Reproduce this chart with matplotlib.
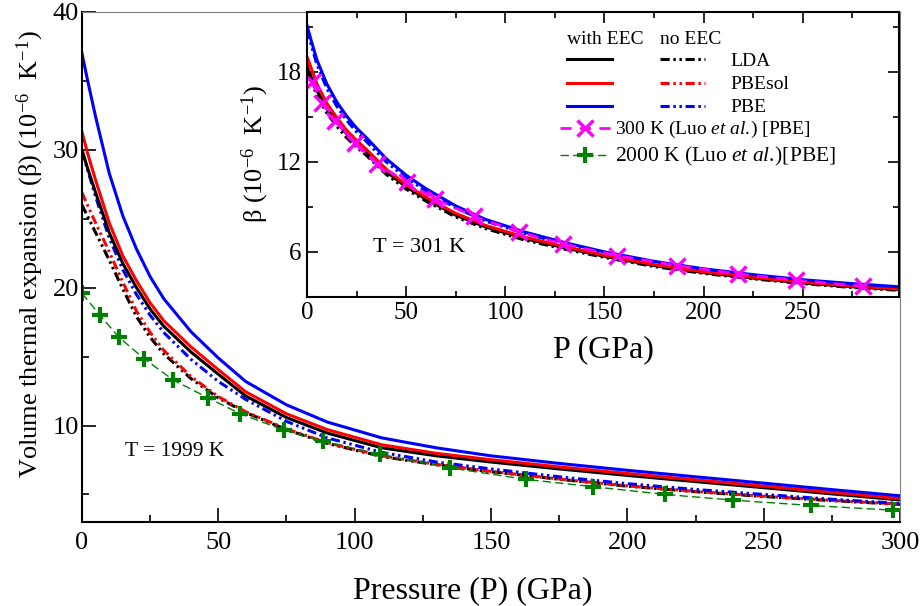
import matplotlib
matplotlib.use('Agg')
import matplotlib.pyplot as plt
from matplotlib.ticker import MultipleLocator
from matplotlib.legend_handler import HandlerTuple

plt.rcParams['font.family'] = ['Liberation Serif', 'DejaVu Serif']
plt.rcParams['mathtext.fontset'] = 'custom'
plt.rcParams['mathtext.rm'] = 'Liberation Serif'
plt.rcParams['mathtext.it'] = 'Liberation Serif:italic'

# pressure grid (GPa) the curves were read on
pressure = [0, 2, 5, 10, 15, 20, 25, 30, 40, 50, 60, 75, 90, 110, 130, 150, 175, 200, 225, 250, 275, 300]

# T = 1999 K, with electronic excitation contribution (EEC)
lda_eec_1999 = [30.0, 28.7, 26.9, 24.0, 21.75, 20.0, 18.45, 17.2, 15.33, 13.72, 12.15, 10.58, 9.45, 8.38, 7.8, 7.35, 6.85, 6.38, 5.93, 5.49, 5.04, 4.6]
pbesol_eec_1999 = [31.3, 29.8, 27.8, 24.7, 22.3, 20.5, 18.9, 17.6, 15.7, 14.05, 12.45, 10.85, 9.7, 8.6, 7.98, 7.52, 7.0, 6.52, 6.06, 5.61, 5.15, 4.7]
pbe_eec_1999 = [37.0, 35.1, 32.4, 28.3, 25.2, 22.8, 20.8, 19.2, 16.8, 14.9, 13.2, 11.5, 10.25, 9.1, 8.38, 7.8, 7.25, 6.75, 6.28, 5.82, 5.35, 4.9]
# T = 1999 K, no EEC
lda_noeec_1999 = [26.0, 25.2, 24.0, 22.0, 19.9, 17.9, 16.4, 15.2, 13.4, 12.0, 10.95, 9.7, 8.7, 7.75, 7.15, 6.65, 6.1, 5.6, 5.2, 4.85, 4.55, 4.28]
pbesol_noeec_1999 = [26.9, 26.0, 24.7, 22.6, 20.4, 18.3, 16.75, 15.45, 13.55, 12.1, 11.0, 9.75, 8.75, 7.8, 7.18, 6.67, 6.12, 5.62, 5.22, 4.87, 4.57, 4.3]
pbe_noeec_1999 = [29.9, 28.6, 26.6, 23.6, 21.3, 19.5, 18.0, 16.75, 14.8, 13.2, 11.9, 10.3, 9.1, 8.05, 7.35, 6.85, 6.28, 5.78, 5.36, 5.0, 4.65, 4.35]

# T = 301 K (inset)
lda_eec_301 = [18.3, 17.7, 16.75, 15.55, 14.65, 13.85, 13.2, 12.62, 11.33, 10.32, 9.5, 8.43, 7.65, 6.86, 6.25, 5.69, 5.07, 4.6, 4.23, 3.91, 3.65, 3.45]
pbesol_eec_301 = [19.0, 18.3, 17.2, 15.9, 14.95, 14.1, 13.42, 12.82, 11.5, 10.45, 9.63, 8.55, 7.75, 6.95, 6.33, 5.75, 5.13, 4.65, 4.28, 3.96, 3.7, 3.49]
pbe_eec_301 = [21.1, 20.15, 18.8, 17.2, 16.0, 15.05, 14.25, 13.6, 12.2, 11.1, 10.2, 9.05, 8.15, 7.3, 6.6, 5.98, 5.35, 4.85, 4.46, 4.12, 3.86, 3.64]
lda_noeec_301 = [18.0, 17.4, 16.45, 15.25, 14.37, 13.6, 12.97, 12.42, 11.15, 10.17, 9.37, 8.31, 7.54, 6.76, 6.16, 5.61, 5.0, 4.54, 4.18, 3.86, 3.6, 3.4]
pbesol_noeec_301 = [18.8, 18.12, 17.03, 15.74, 14.8, 13.96, 13.29, 12.7, 11.39, 10.36, 9.55, 8.47, 7.68, 6.89, 6.27, 5.7, 5.09, 4.61, 4.25, 3.93, 3.67, 3.46]
pbe_noeec_301 = [20.8, 19.85, 18.5, 16.9, 15.71, 14.77, 13.99, 13.35, 11.98, 10.92, 10.05, 8.92, 8.04, 7.2, 6.51, 5.9, 5.28, 4.8, 4.41, 4.07, 3.81, 3.59]

# Luo et al. reference points
luo_2000_p = [0, 6.6, 13.6, 22.7, 33.5, 46.3, 58.1, 74.1, 88.4, 109.2, 134.8, 162.9, 187.5, 213.9, 238.6, 267.3, 297.4]
luo_2000_beta = [19.6, 18.0, 16.4, 14.86, 13.3, 12.0, 10.85, 9.66, 8.86, 7.9, 6.93, 6.09, 5.56, 5.0, 4.59, 4.2, 3.86]
luo_300_p = [2.5, 7.5, 14.2, 24.3, 35.5, 50.3, 64.6, 84.3, 107.0, 129.3, 156.2, 186.4, 217.5, 246.6, 280.5]
luo_300_beta = [17.3, 15.9, 14.75, 13.24, 11.87, 10.62, 9.51, 8.35, 7.3, 6.51, 5.73, 5.07, 4.51, 4.09, 3.69]

colors = ['black', 'red', 'blue']
ddot = (0, (3, 1.2, 0.8, 1.2, 0.8, 1.2))  # dash-dot-dot

fig = plt.figure(figsize=(9.23, 6.06), dpi=100)

# ---- main panel, T = 1999 K ----
ax = fig.add_axes([0.0888, 0.1386, 0.8863, 0.8416])
for ys, c in zip([lda_noeec_1999, pbesol_noeec_1999, pbe_noeec_1999], colors):
    ax.plot(pressure, ys, color=c, lw=2.2, linestyle=ddot)
for ys, c in zip([lda_eec_1999, pbesol_eec_1999, pbe_eec_1999], colors):
    ax.plot(pressure, ys, color=c, lw=2.2)
ax.plot(luo_2000_p, luo_2000_beta, color='green', lw=1, linestyle=(0, (6, 3)),
        marker='+', ms=11, mew=3)

ax.set_xlim(0, 300)
ax.set_ylim(3, 40)
ax.xaxis.set_major_locator(MultipleLocator(50))
ax.xaxis.set_minor_locator(MultipleLocator(25))
ax.yaxis.set_major_locator(MultipleLocator(10))
ax.yaxis.set_minor_locator(MultipleLocator(5))
ax.tick_params(which='both', direction='in', top=False, right=False, labelsize=19)
ax.tick_params(which='major', length=10, width=1.2)
ax.tick_params(which='minor', length=5, width=1.2)
ax.tick_params(axis='x', pad=7)
ax.tick_params(axis='y', pad=2)
for s in ['left', 'bottom']:
    ax.spines[s].set_linewidth(1.5)
for s in ['top', 'right']:
    ax.spines[s].set_color('#808080')
ax.set_xlabel('Pressure (P) (GPa)', fontsize=23, x=0.478, labelpad=16)
ax.set_ylabel('Volume thermal expansion (β) (10$^{-6}$  K$^{-1}$)', fontsize=19,
              y=0.525, labelpad=5)
ax.text(0.0526, 0.139, 'T = 1999 K', transform=ax.transAxes, fontsize=15.5, va='center')

# ---- inset, T = 301 K ----
axi = fig.add_axes([0.3326, 0.5107, 0.6414, 0.4695])
lines_no = []
for ys, c in zip([lda_noeec_301, pbesol_noeec_301, pbe_noeec_301], colors):
    ln, = axi.plot(pressure, ys, color=c, lw=2.2, linestyle=ddot)
    lines_no.append(ln)
lines_eec = []
for ys, c in zip([lda_eec_301, pbesol_eec_301, pbe_eec_301], colors):
    ln, = axi.plot(pressure, ys, color=c, lw=2.2)
    lines_eec.append(ln)
luo300, = axi.plot(luo_300_p, luo_300_beta, color='magenta', lw=2, linestyle=(0, (4, 3)),
                   marker='x', ms=11, mew=2.5)
# proxy for the 2000 K series shown in the inset legend
luo2000, = axi.plot([], [], color='green', lw=1, linestyle=(0, (6, 3)), marker='+', ms=11, mew=3)

axi.set_xlim(0, 298.5)
axi.set_ylim(3, 22)
axi.xaxis.set_major_locator(MultipleLocator(50))
axi.xaxis.set_minor_locator(MultipleLocator(25))
axi.yaxis.set_major_locator(MultipleLocator(6))
axi.yaxis.set_minor_locator(MultipleLocator(3))
axi.set_xticks([0, 50, 100, 150, 200, 250])
axi.tick_params(which='both', direction='in', top=True, right=True, labelsize=18)
axi.tick_params(which='major', length=8, width=1.2)
axi.tick_params(which='minor', length=4, width=1.2)
axi.tick_params(axis='x', pad=4)
axi.tick_params(axis='y', pad=4)
for s in axi.spines.values():
    s.set_linewidth(1.5)
axi.set_xlabel('P (GPa)', fontsize=23, labelpad=8)
axi.set_ylabel('β (10$^{-6}$  K$^{-1}$)', fontsize=19, labelpad=4)
axi.text(0.1115, 0.174, 'T = 301 K', transform=axi.transAxes, fontsize=16, va='center')

# legend: header + functional rows + reference rows
axi.text(0.439, 0.905, 'with EEC', transform=axi.transAxes, fontsize=14, va='center')
axi.text(0.596, 0.905, 'no EEC', transform=axi.transAxes, fontsize=14, va='center')
leg1 = axi.legend([(a, b) for a, b in zip(lines_eec, lines_no)], ['LDA', 'PBEsol', 'PBE'],
                  handler_map={tuple: HandlerTuple(ndivide=None, pad=2.47)},
                  loc='upper left', bbox_to_anchor=(0.439, 0.857), frameon=False,
                  fontsize=14, handlelength=7.1, handletextpad=1.3, labelspacing=0.28,
                  borderpad=0, borderaxespad=0)
axi.add_artist(leg1)
leg2 = axi.legend([luo300, luo2000],
                  [r'300 K (Luo $\mathit{et\ al.}\!$) [PBE]', r'2000 K (Luo $\mathit{et\ al.}\!$)[PBE]'],
                  loc='upper left', bbox_to_anchor=(0.427, 0.623), frameon=False,
                  fontsize=14, handlelength=2.6, handletextpad=0.25, labelspacing=0.25,
                  borderpad=0, borderaxespad=0, numpoints=1)
leg2.get_texts()[1].set_fontsize(15.5)

fig.savefig('out.png', dpi=100)
